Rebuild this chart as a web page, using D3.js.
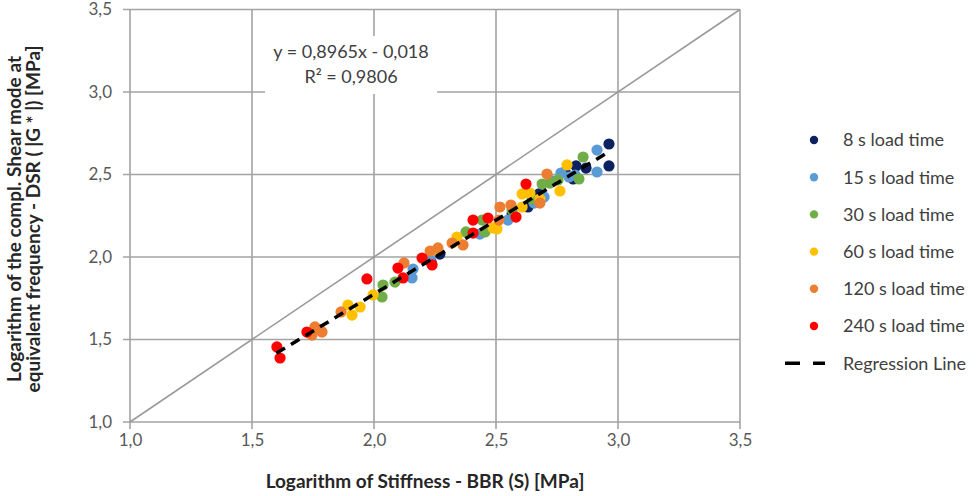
<!DOCTYPE html>
<html>
<head>
<meta charset="utf-8">
<script src="https://cdn.jsdelivr.net/npm/d3@7/dist/d3.min.js"></script>
<style>
  body { margin: 0; background: #fff; }
  svg text { font-family: Lato, "Open Sans", "DejaVu Sans", sans-serif; }
</style>
</head>
<body>
<svg id="chart" width="979" height="496"></svg>
<script>
// Log stiffness (BBR) vs log complex shear modulus (DSR), one series per load time
const seriesNames = ["8 s load time", "15 s load time", "30 s load time",
                     "60 s load time", "120 s load time", "240 s load time"];
const seriesColors = ["#0b2160", "#5b9bd5", "#70ad47", "#ffc000", "#ed7d31", "#ff0000"];

const load8s = [[2.963, 2.685], [2.963, 2.552], [2.869, 2.539], [2.828, 2.552], [2.816, 2.473],
                [2.783, 2.515], [2.676, 2.382], [2.631, 2.303], [2.566, 2.261], [2.270, 2.018],
                [2.234, 1.970]];
const load15s = [[2.914, 2.648], [2.914, 2.515], [2.824, 2.497], [2.766, 2.509], [2.799, 2.485],
                 [2.730, 2.461], [2.697, 2.364], [2.656, 2.327], [2.549, 2.224], [2.434, 2.139],
                 [2.230, 1.982], [2.160, 1.927], [2.156, 1.873]];
const load30s = [[2.857, 2.606], [2.840, 2.473], [2.689, 2.442], [2.721, 2.448], [2.754, 2.467],
                 [2.648, 2.352], [2.566, 2.285], [2.443, 2.224], [2.455, 2.152], [2.377, 2.152],
                 [2.086, 1.848], [2.037, 1.830], [2.033, 1.758]];
const load60s = [[2.791, 2.558], [2.762, 2.400], [2.680, 2.352], [2.607, 2.382], [2.639, 2.388],
                 [2.607, 2.303], [2.504, 2.170], [2.488, 2.176], [2.340, 2.121], [2.258, 2.042],
                 [1.996, 1.770], [1.943, 1.697], [1.893, 1.709], [1.910, 1.648]];
const load120s = [[2.709, 2.503], [2.680, 2.327], [2.561, 2.315], [2.516, 2.303], [2.512, 2.224],
                  [2.365, 2.073], [2.320, 2.085], [2.230, 2.036], [2.262, 2.055], [2.123, 1.964],
                  [1.865, 1.667], [1.758, 1.576], [1.787, 1.545], [1.746, 1.527], [1.779, 1.558]];
const load240s = [[2.623, 2.442], [2.582, 2.242], [2.406, 2.224], [2.467, 2.236], [2.406, 2.145],
                  [2.238, 1.952], [2.197, 1.994], [2.119, 1.873], [2.098, 1.933], [1.971, 1.867],
                  [1.725, 1.545], [1.602, 1.455], [1.615, 1.388]];
const seriesData = [load8s, load15s, load30s, load60s, load120s, load240s];

const axisTicks = [1.0, 1.5, 2.0, 2.5, 3.0, 3.5];
const tickLabels = ["1,0", "1,5", "2,0", "2,5", "3,0", "3,5"];

// Linear fit and its label
const slope = 0.8965, intercept = -0.018;
const fitRange = [1.6, 2.97];
const equationLines = ["y = 0,8965x - 0,018", "R² = 0,9806"];

const xTitle = "Logarithm of Stiffness - BBR (S) [MPa]";
const yTitleLines = ["Logarithm of the compl. Shear mode at",
                     "equivalent frequency - DSR ( |G * |) [MPa]"];
const regressionName = "Regression Line";

const svg = d3.select("#chart");
const plot = { left: 130, right: 740, top: 9.5, bottom: 422 };
const x = d3.scaleLinear().domain([1, 3.5]).range([plot.left, plot.right]);
const y = d3.scaleLinear().domain([1, 3.5]).range([plot.bottom, plot.top]);

const gridColor = "#a3a3a3";
const grid = svg.append("g");
// vertical gridlines, with outer tick marks below the x axis
grid.selectAll("line.v").data(axisTicks).join("line")
  .attr("x1", d => x(d)).attr("x2", d => x(d))
  .attr("y1", plot.top).attr("y2", plot.bottom + 7)
  .attr("stroke", gridColor).attr("stroke-width", 1.6);
// horizontal gridlines, with outer tick marks left of the y axis
grid.selectAll("line.h").data(axisTicks).join("line")
  .attr("x1", plot.left - 7).attr("x2", plot.right)
  .attr("y1", d => y(d)).attr("y2", d => y(d))
  .attr("stroke", gridColor).attr("stroke-width", 1.6);

// line of equality
svg.append("line")
  .attr("x1", x(1)).attr("y1", y(1)).attr("x2", x(3.5)).attr("y2", y(3.5))
  .attr("stroke", "#9a9a9a").attr("stroke-width", 1.6);

// tick labels
const xAxis = d3.axisBottom(x).tickValues(axisTicks)
  .tickFormat((d, i) => tickLabels[i]).tickSize(0).tickPadding(12);
const gx = svg.append("g").attr("transform", `translate(0,${plot.bottom})`).call(xAxis);
gx.select(".domain").remove();
gx.selectAll("text").attr("fill", "#595959").style("font-size", "17px");

const yAxis = d3.axisLeft(y).tickValues(axisTicks)
  .tickFormat((d, i) => tickLabels[i]).tickSize(0).tickPadding(18);
const gy = svg.append("g").attr("transform", `translate(${plot.left},0)`).call(yAxis);
gy.select(".domain").remove();
gy.selectAll("text").attr("fill", "#595959").style("font-size", "17px");

// data points, first series at the bottom
seriesData.forEach((pts, i) => {
  svg.append("g").selectAll("circle").data(pts).join("circle")
    .attr("cx", d => x(d[0])).attr("cy", d => y(d[1]))
    .attr("r", 5.6).attr("fill", seriesColors[i]);
});

// regression line
svg.append("line")
  .attr("x1", x(fitRange[0])).attr("y1", y(slope * fitRange[0] + intercept))
  .attr("x2", x(fitRange[1])).attr("y2", y(slope * fitRange[1] + intercept))
  .attr("stroke", "#000").attr("stroke-width", 3.5).attr("stroke-dasharray", "10,7");

// equation box
svg.append("rect").attr("x", 265).attr("y", 36).attr("width", 172).attr("height", 58)
  .attr("fill", "#fff");
svg.append("g").selectAll("text").data(equationLines).join("text")
  .attr("x", 351).attr("y", (d, i) => 58 + i * 25)
  .attr("text-anchor", "middle").attr("fill", "#404040").style("font-size", "18px")
  .text(d => d);

// axis titles
svg.append("text").attr("x", 425).attr("y", 488).attr("text-anchor", "middle")
  .attr("fill", "#262626").style("font-size", "19px").style("font-weight", "bold")
  .text(xTitle);
svg.append("g").attr("transform", "translate(0,219) rotate(-90)")
  .selectAll("text").data(yTitleLines).join("text")
  .attr("x", 0).attr("y", (d, i) => 21 + i * 19).attr("text-anchor", "middle")
  .attr("fill", "#262626").style("font-size", "19px").style("font-weight", "bold")
  .text(d => d);

// legend
const legend = svg.append("g");
const rowY = i => 140 + i * 37.2;
seriesNames.forEach((name, i) => {
  legend.append("circle").attr("cx", 814).attr("cy", rowY(i)).attr("r", 4.2)
    .attr("fill", seriesColors[i]);
  legend.append("text").attr("x", 843).attr("y", rowY(i)).attr("dy", "0.35em")
    .attr("fill", "#404040").style("font-size", "18px").text(name);
});
const regY = rowY(6);
legend.append("line").attr("x1", 785).attr("x2", 825).attr("y1", regY).attr("y2", regY)
  .attr("stroke", "#000").attr("stroke-width", 3.5).attr("stroke-dasharray", "15,13");
legend.append("text").attr("x", 843).attr("y", regY).attr("dy", "0.35em")
  .attr("fill", "#404040").style("font-size", "18px").text(regressionName);
</script>
</body>
</html>
